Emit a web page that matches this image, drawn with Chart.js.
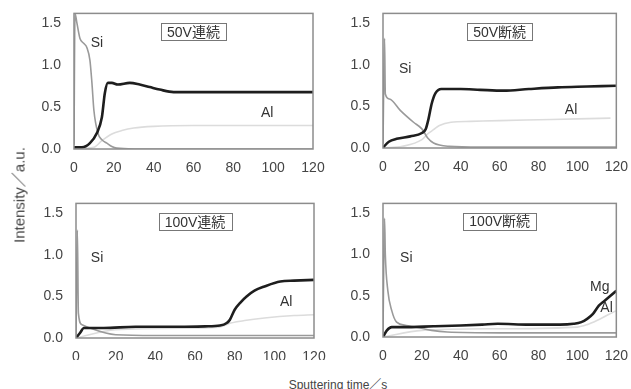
<!DOCTYPE html>
<html>
<head>
<meta charset="utf-8">
<script src="https://cdn.jsdelivr.net/npm/chart.js@4.4.0/dist/chart.umd.min.js"></script>
<style>
body { margin: 0; background: #fff; }
#figure { position: relative; width: 631px; height: 389px; overflow: hidden; background: #fff;
  font-family: "Liberation Sans", "Noto Sans CJK JP", sans-serif; color: #444; }
#figure canvas { position: absolute; }
#yTitle { position: absolute; left: 18px; top: 195px; transform: translate(-50%, -50%) rotate(-90deg);
  font-size: 15px; white-space: nowrap; }
#xTitle { position: absolute; left: 338px; top: 383px; transform: translate(-50%, -50%);
  font-size: 12px; white-space: nowrap; }
</style>
</head>
<body>
<div id="figure">
  <canvas id="c50c" width="330" height="175" style="left:0px;top:0px"></canvas>
  <canvas id="c50d" width="301" height="175" style="left:330px;top:0px"></canvas>
  <canvas id="c100c" width="330" height="170" style="left:0px;top:190px"></canvas>
  <canvas id="c100d" width="301" height="170" style="left:330px;top:190px"></canvas>
  <div id="yTitle">Intensity／a.u.</div>
  <div id="xTitle">Sputtering time／s</div>
</div>
<script>
// 축 눈금
const xTicks = [0, 20, 40, 60, 80, 100, 120];
const yTicks = [0, 0.5, 1.0, 1.5];

// 50V連続
const siT_50c = [0, 0.5, 1.5, 3, 5, 6.5, 8, 9, 10, 12, 14, 16.5, 19, 21.5, 30, 120];
const si_50c = [0.05, 1.62, 1.5, 1.32, 1.26, 1.21, 1.06, 0.79, 0.46, 0.19, 0.11, 0.07, 0.03, 0.01, 0.0, 0.0];
const darkT_50c = [0, 4, 8, 11.5, 14, 15.5, 17, 19, 22, 28, 33, 38, 43, 50, 60, 80, 100, 120];
const dark_50c = [0.02, 0.02, 0.07, 0.19, 0.38, 0.67, 0.79, 0.79, 0.77, 0.79, 0.77, 0.74, 0.71, 0.68, 0.68, 0.68, 0.68, 0.68];
const lightT_50c = [0, 10, 14, 19, 24, 30, 40, 60, 120];
const light_50c = [0.0, 0.02, 0.1, 0.18, 0.22, 0.25, 0.27, 0.28, 0.28];

// 50V断続
const siT_50d = [0, 0.8, 1.2, 3.3, 9, 15.7, 20, 23, 26, 34, 50, 120];
const si_50d = [0.05, 1.32, 0.65, 0.59, 0.45, 0.31, 0.23, 0.12, 0.06, 0.02, 0.01, 0.01];
const darkT_50d = [0, 1, 3, 7, 14, 20, 22, 23.5, 25, 27, 30, 40, 50, 62, 75, 90, 105, 120];
const dark_50d = [0.0, 0.03, 0.075, 0.11, 0.14, 0.18, 0.23, 0.36, 0.53, 0.66, 0.71, 0.71, 0.70, 0.69, 0.71, 0.73, 0.74, 0.75];
const lightT_50d = [0, 10, 20, 23, 26, 29, 35, 45, 60, 80, 100, 117];
const light_50d = [0.0, 0.02, 0.1, 0.17, 0.22, 0.27, 0.31, 0.32, 0.33, 0.34, 0.35, 0.36];

// 100V連続
const siT_100c = [0, 0.7, 1.2, 3, 7, 15, 20, 40, 80, 120];
const si_100c = [0.02, 1.30, 0.30, 0.16, 0.12, 0.06, 0.04, 0.03, 0.03, 0.03];
const darkT_100c = [0, 2, 4, 14, 30, 52, 65, 72.6, 76, 77.6, 80, 83, 86, 90, 95, 103, 110, 120];
const dark_100c = [0.0, 0.06, 0.12, 0.12, 0.135, 0.135, 0.14, 0.15, 0.18, 0.22, 0.34, 0.43, 0.5, 0.57, 0.62, 0.68, 0.69, 0.70];
const lightT_100c = [0, 20, 60, 72, 78, 85, 95, 110, 120];
const light_100c = [0.0, 0.1, 0.12, 0.13, 0.18, 0.21, 0.24, 0.27, 0.28];

// 100V断続
const siT_100d = [0, 0.8, 1.2, 2.5, 4.5, 7, 12, 17, 25, 33, 60, 120];
const si_100d = [0.05, 1.44, 1.0, 0.56, 0.32, 0.18, 0.14, 0.12, 0.08, 0.06, 0.05, 0.05];
const darkT_100d = [0, 2, 4.5, 10, 26, 40, 51, 59, 75, 91, 98, 102, 105, 108, 111, 114, 117, 120];
const dark_100d = [0.0, 0.08, 0.12, 0.12, 0.13, 0.14, 0.15, 0.16, 0.15, 0.15, 0.16, 0.18, 0.22, 0.28, 0.38, 0.44, 0.5, 0.56];
const lightT_100d = [0, 20, 60, 100, 105, 110, 115, 120];
const light_100d = [0.0, 0.08, 0.1, 0.12, 0.15, 0.2, 0.26, 0.32];

const FONT = '"Liberation Sans", "Noto Sans CJK JP", sans-serif';

function toPoints(ts, vs) {
    return ts.map((t, i) => ({ x: t, y: vs[i] }));
}

// 패널 테두리, 제목 박스, 원소 라벨
const panelDeco = {
    id: 'panelDeco',
    afterDatasetsDraw(chart, args, opts) {
        const ctx = chart.ctx;
        const a = chart.chartArea;
        const xs = chart.scales.x, ys = chart.scales.y;
        ctx.save();
        ctx.strokeStyle = '#8c8c8c';
        ctx.lineWidth = 1.5;
        ctx.strokeRect(a.left, a.top, a.right - a.left, a.bottom - a.top);

        ctx.font = '14px ' + FONT;
        ctx.fillStyle = '#333';
        ctx.textAlign = 'center';
        ctx.textBaseline = 'middle';
        opts.labels.forEach(l => {
            ctx.fillText(l.text, xs.getPixelForValue(l.x), ys.getPixelForValue(l.y));
        });

        // 제목 박스
        const cx = xs.getPixelForValue(60);
        const cy = ys.getPixelForValue(1.40);
        const w = ctx.measureText(opts.title).width + 12;
        const h = 17;
        ctx.fillStyle = '#fff';
        ctx.fillRect(cx - w / 2, cy - h / 2, w, h);
        ctx.strokeStyle = '#777';
        ctx.lineWidth = 1;
        ctx.strokeRect(Math.round(cx - w / 2) + 0.5, Math.round(cy - h / 2) + 0.5, Math.round(w), h);
        ctx.fillStyle = '#333';
        ctx.fillText(opts.title, cx, cy + 1);
        ctx.restore();
    }
};

function makePanel(id, area, title, si, dark, light, labels) {
    const canvas = document.getElementById(id);
    const W = canvas.width, H = canvas.height;
    const tickStyle = { color: '#444', font: { size: 14, family: FONT } };
    new Chart(canvas, {
        type: 'line',
        data: {
            datasets: [
                { label: 'Mg', data: dark, borderColor: '#1e1e1e', borderWidth: 2.6 },
                { label: 'Si', data: si, borderColor: '#9a9a9a', borderWidth: 1.6 },
                { label: 'Al', data: light, borderColor: '#dcdcdc', borderWidth: 1.6 }
            ]
        },
        options: {
            responsive: false,
            animation: false,
            devicePixelRatio: 1,
            parsing: false,
            elements: {
                point: { radius: 0 },
                line: { cubicInterpolationMode: 'monotone', fill: false }
            },
            layout: {
                autoPadding: false,
                padding: { left: 0, top: area.t, right: W - area.r, bottom: 0 }
            },
            scales: {
                x: {
                    type: 'linear', min: 0, max: 120,
                    grid: { display: false }, border: { display: false },
                    ticks: Object.assign({ padding: 3, maxRotation: 0, autoSkip: false }, tickStyle),
                    afterBuildTicks: s => { s.ticks = xTicks.map(v => ({ value: v })); },
                    afterFit: s => { s.height = H - area.b; }
                },
                y: {
                    type: 'linear', min: 0, max: 1.62,
                    grid: { display: false }, border: { display: false },
                    ticks: Object.assign({ padding: 5, callback: v => v.toFixed(1) }, tickStyle),
                    afterBuildTicks: s => { s.ticks = yTicks.map(v => ({ value: v })); },
                    afterFit: s => { s.width = area.l; }
                }
            },
            plugins: {
                legend: { display: false },
                tooltip: { enabled: false },
                panelDeco: { title: title, labels: labels }
            }
        },
        plugins: [panelDeco]
    });
}

makePanel('c50c', { l: 74, r: 313, t: 13, b: 149 }, '50V連続',
    toPoints(siT_50c, si_50c), toPoints(darkT_50c, dark_50c), toPoints(lightT_50c, light_50c),
    [{ text: 'Si', x: 11.5, y: 1.26 }, { text: 'Al', x: 97, y: 0.43 }]);

makePanel('c50d', { l: 53, r: 295, t: 13, b: 148 }, '50V断続',
    toPoints(siT_50d, si_50d), toPoints(darkT_50d, dark_50d), toPoints(lightT_50d, light_50d),
    [{ text: 'Si', x: 11.4, y: 0.95 }, { text: 'Al', x: 96.7, y: 0.45 }]);

makePanel('c100c', { l: 76, r: 314, t: 13, b: 148 }, '100V連続',
    toPoints(siT_100c, si_100c), toPoints(darkT_100c, dark_100c), toPoints(lightT_100c, light_100c),
    [{ text: 'Si', x: 10.6, y: 0.96 }, { text: 'Al', x: 106, y: 0.43 }]);

makePanel('c100d', { l: 53, r: 295, t: 12, b: 147 }, '100V断続',
    toPoints(siT_100d, si_100d), toPoints(darkT_100d, dark_100d), toPoints(lightT_100d, light_100d),
    [{ text: 'Si', x: 12, y: 0.96 }, { text: 'Mg', x: 111.5, y: 0.6 }, { text: 'Al', x: 115, y: 0.35 }]);
</script>
</body>
</html>
